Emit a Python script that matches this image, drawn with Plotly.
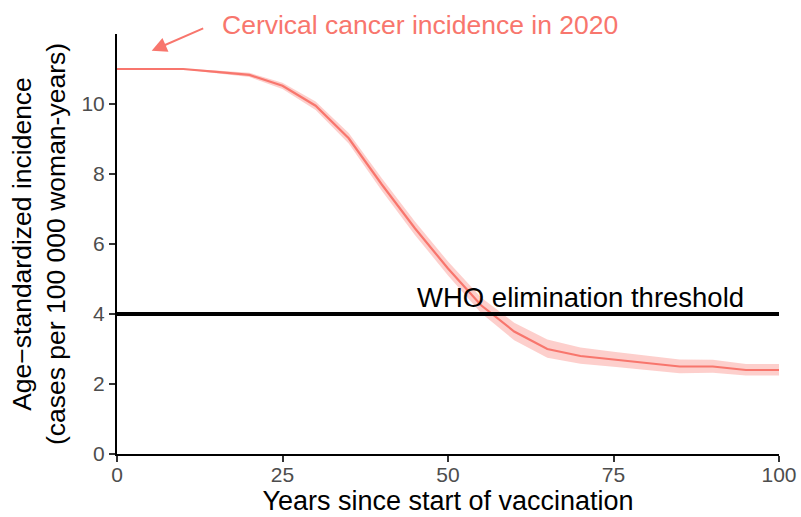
import plotly.graph_objects as go

years = [0, 5, 10, 15, 20, 25, 30, 35, 40, 45, 50, 55, 60, 65, 70, 75, 80, 85, 90, 95, 100]
incidence = [11.0, 11.0, 11.0, 10.92, 10.83, 10.52, 9.95, 9.02, 7.7, 6.45, 5.3, 4.25, 3.5, 3.0, 2.8, 2.7, 2.6, 2.5, 2.5, 2.4, 2.4]
lower = [11.0, 11.0, 10.99, 10.88, 10.77, 10.43, 9.83, 8.87, 7.52, 6.26, 5.1, 4.03, 3.25, 2.75, 2.58, 2.49, 2.4, 2.31, 2.32, 2.24, 2.24]
upper = [11.0, 11.0, 11.01, 10.96, 10.89, 10.61, 10.07, 9.17, 7.88, 6.64, 5.5, 4.47, 3.75, 3.27, 3.04, 2.92, 2.81, 2.7, 2.69, 2.57, 2.57]
threshold_x = [0, 100]
threshold_y = [4, 4]

col = "#F8766D"
font = "Liberation Sans, Arial, sans-serif"

fig = go.Figure()
fig.add_trace(go.Scatter(x=years, y=upper, mode="lines", line=dict(width=0, color=col),
                         showlegend=False, hoverinfo="skip"))
fig.add_trace(go.Scatter(x=years, y=lower, mode="lines", line=dict(width=0, color=col),
                         fill="tonexty", fillcolor="rgba(248,118,109,0.35)", showlegend=False, hoverinfo="skip"))
fig.add_trace(go.Scatter(x=years, y=incidence, mode="lines", line=dict(width=2.2, color=col), showlegend=False))
fig.add_trace(go.Scatter(x=threshold_x, y=threshold_y, mode="lines", line=dict(width=4, color="black"),
                         showlegend=False))

fig.add_annotation(x=70.0, y=4.48, xref="x", yref="y", text="WHO elimination threshold", showarrow=False,
                   font=dict(family=font, size=27.5, color="black"), xanchor="center", yanchor="middle")
fig.add_annotation(x=15.6, y=(454 - 25) / 420, xref="x", yref="paper", text="Cervical cancer incidence in 2020",
                   showarrow=False, font=dict(family=font, size=26.5, color=col), xanchor="left", yanchor="middle")
fig.add_annotation(x=5.24, y=11.52, xref="x", yref="y", text="", showarrow=True, ax=53, ay=-23,
                   arrowhead=2, arrowsize=1.5, arrowwidth=2, arrowcolor=col)

axis_common = dict(showline=True, linecolor="black", linewidth=2, ticks="outside", ticklen=6, tickwidth=2,
                   tickcolor="#333333", showgrid=False, zeroline=False, automargin=False,
                   tickfont=dict(family=font, size=21, color="#4D4D4D"))

fig.update_xaxes(range=[0, 100], tickvals=[0, 25, 50, 75, 100], ticklabelstandoff=-5,
                 title=dict(text="Years since start of vaccination", font=dict(family=font, size=27, color="black"), standoff=6),
                 **axis_common)
fig.update_yaxes(range=[0, 12], tickvals=[0, 2, 4, 6, 8, 10],
                 title=dict(text="Age\u2212standardized incidence<br>(cases per 100 000 woman-years)",
                            font=dict(family=font, size=26.5, color="black"), standoff=8),
                 **axis_common)

fig.update_layout(width=801, height=517, margin=dict(l=117, r=22, t=34, b=63),
                  plot_bgcolor="white", paper_bgcolor="white", font=dict(family=font), hovermode=False)

fig.write_html("out.html", config={"displayModeBar": False, "staticPlot": True},
               post_script="document.body.style.margin='0';document.body.style.overflow='hidden';")
